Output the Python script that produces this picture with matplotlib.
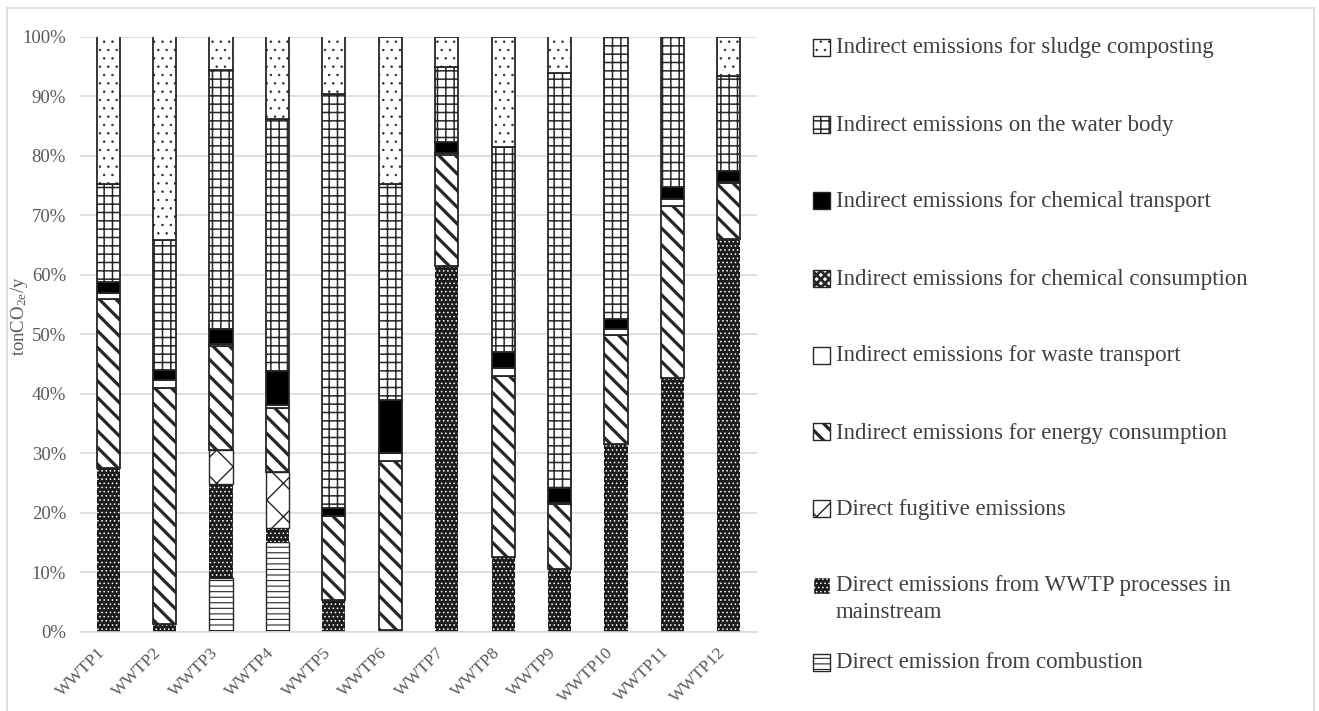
import numpy as np
import matplotlib
matplotlib.use("Agg")
import matplotlib.pyplot as plt
from matplotlib.patches import Rectangle
from matplotlib.lines import Line2D
from matplotlib.transforms import ScaledTranslation

plt.rcParams['font.family'] = ['Liberation Serif', 'DejaVu Serif']
plt.rcParams['mathtext.fontset'] = 'custom'
plt.rcParams['mathtext.rm'] = 'Liberation Serif'
plt.rcParams['mathtext.it'] = 'Liberation Serif'
plt.rcParams['hatch.linewidth'] = 1.0

plants = ["WWTP1", "WWTP2", "WWTP3", "WWTP4", "WWTP5", "WWTP6",
          "WWTP7", "WWTP8", "WWTP9", "WWTP10", "WWTP11", "WWTP12"]

# shares in % (bottom to top of each stack)
combustion = [0, 0, 9.0, 15.1, 0, 0, 0, 0, 0, 0, 0, 0]
mainstream = [27.6, 1.3, 15.9, 2.3, 5.4, 0.3, 61.5, 12.6, 10.5, 31.5, 42.7, 66.0]
fugitive = [0, 0, 5.7, 9.5, 0, 0, 0, 0, 0, 0, 0, 0]
energy = [28.3, 39.7, 17.4, 10.7, 14.1, 28.4, 18.6, 30.4, 11.0, 18.3, 28.9, 9.4]
waste_transport = [1.0, 1.4, 0.3, 0.6, 0, 1.3, 0.3, 1.3, 0.2, 1.0, 1.1, 0.2]
chem_consumption = [0, 0, 0, 0, 0, 0, 0, 0, 0, 0, 0, 0]
chem_transport = [1.9, 1.6, 2.6, 5.6, 1.4, 8.9, 1.9, 2.7, 2.5, 1.7, 2.0, 1.8]
water_body = [16.5, 21.9, 43.5, 42.3, 69.4, 36.3, 12.6, 34.5, 69.7, 47.5, 25.3, 16.0]
sludge = [24.7, 34.1, 5.6, 13.9, 9.7, 24.8, 5.1, 18.5, 6.1, 0, 0, 6.6]

series = [
    ("Direct emission from combustion", combustion),
    ("Direct emissions from WWTP processes in\nmainstream", mainstream),
    ("Direct fugitive emissions", fugitive),
    ("Indirect emissions for energy consumption", energy),
    ("Indirect emissions for waste transport", waste_transport),
    ("Indirect emissions for chemical consumption", chem_consumption),
    ("Indirect emissions for chemical transport", chem_transport),
    ("Indirect emissions on the water body", water_body),
    ("Indirect emissions for sludge composting", sludge),
]

edge = "#262626"
styles = [
    dict(facecolor="white", edgecolor=edge, hatch="---", lw=1.0, hlw=0.8),
    dict(facecolor="#1c1c1c", edgecolor="white", hatch="....", lw=0, hlw=0.6),
    dict(facecolor="white", edgecolor=edge, hatch="x", lw=1.0, hlw=1.0),
    dict(facecolor="white", edgecolor=edge, hatch="\\\\", lw=1.3, hlw=2.3),
    dict(facecolor="white", edgecolor=edge, hatch=None, lw=1.3, hlw=1.0),
    dict(facecolor="white", edgecolor=edge, hatch="xxxx", lw=1.3, hlw=2.0),
    dict(facecolor="black", edgecolor=edge, hatch=None, lw=1.3, hlw=1.0),
    dict(facecolor="white", edgecolor=edge, hatch="++", lw=1.3, hlw=1.1),
    dict(facecolor="white", edgecolor=edge, hatch="..", lw=1.3, hlw=0.5),
]

W, H = 1319, 711
fig = plt.figure(figsize=(W / 100, H / 100), dpi=100)
ax = fig.add_axes([80 / W, 1 - 632 / H, 677 / W, (632 - 36.5) / H])

x = np.arange(len(plants))
bottom = np.zeros(len(plants))
for (name, vals), st in zip(series, styles):
    vals = np.array(vals, dtype=float)
    bars = ax.bar(x, vals, 0.41, bottom=bottom, facecolor=st["facecolor"],
                  edgecolor=st["edgecolor"], hatch=st["hatch"], linewidth=st["lw"])
    for b in bars:
        if hasattr(b, "set_hatch_linewidth"):
            b.set_hatch_linewidth(st["hlw"])
    bottom += vals

ax.set_xlim(-0.5, len(plants) - 0.5)
ax.set_ylim(0, 100)
ax.set_yticks(np.arange(0, 101, 10))
ax.set_yticklabels([f"{v}%" for v in range(0, 101, 10)])
ax.yaxis.grid(True, color="#d9d9d9", linewidth=1.2)
ax.set_axisbelow(True)
for s in ["top", "right", "left"]:
    ax.spines[s].set_visible(False)
ax.spines["bottom"].set_color("#d9d9d9")
ax.spines["bottom"].set_linewidth(1.2)
ax.tick_params(axis="y", length=0, pad=10, labelsize=13.5, labelcolor="#595959")
ax.tick_params(axis="x", length=0, pad=9, labelsize=12.5, labelcolor="#595959")
ax.set_xticks(x)
ax.set_xticklabels(plants, rotation=45, ha="right", rotation_mode="anchor")
shift = ScaledTranslation(-11 / 100, 0, fig.dpi_scale_trans)
for lbl in ax.get_xticklabels():
    lbl.set_transform(lbl.get_transform() + shift)

fig.text(20 / W, 1 - 316 / H, r"tonCO$_{\mathrm{2e}}$/y", fontsize=13.5,
         color="#595959", rotation=90, ha="center", va="center")

# legend drawn by hand, top entry first
rows = [47, 124, 201, 278, 355, 432, 508, 585, 662]
sq = 17
for (name, vals), st, yc in zip(series[::-1], styles[::-1], rows):
    r = Rectangle((813 / W, 1 - (yc + sq / 2) / H), sq / W, sq / H,
                  transform=fig.transFigure, facecolor=st["facecolor"],
                  edgecolor=st["edgecolor"] if st["lw"] else "white",
                  hatch=st["hatch"], linewidth=1.0)
    if hasattr(r, "set_hatch_linewidth"):
        r.set_hatch_linewidth(st["hlw"])
    fig.add_artist(r)
    lines = name.split("\n")
    for k, ln in enumerate(lines):
        fig.text(836 / W, 1 - (yc + 1 + 27 * k) / H, ln, fontsize=16.5,
                 color="#404040", va="center", ha="left")

# outer frame
for xs, ys in [([7, 7], [H, 8]), ([7, 1314], [8, 8]), ([1314, 1314], [8, H])]:
    fig.add_artist(Line2D([v / W for v in xs], [1 - v / H for v in ys],
                          transform=fig.transFigure, color="#d9d9d9", linewidth=1.2))

fig.savefig("out.png", dpi=100)
